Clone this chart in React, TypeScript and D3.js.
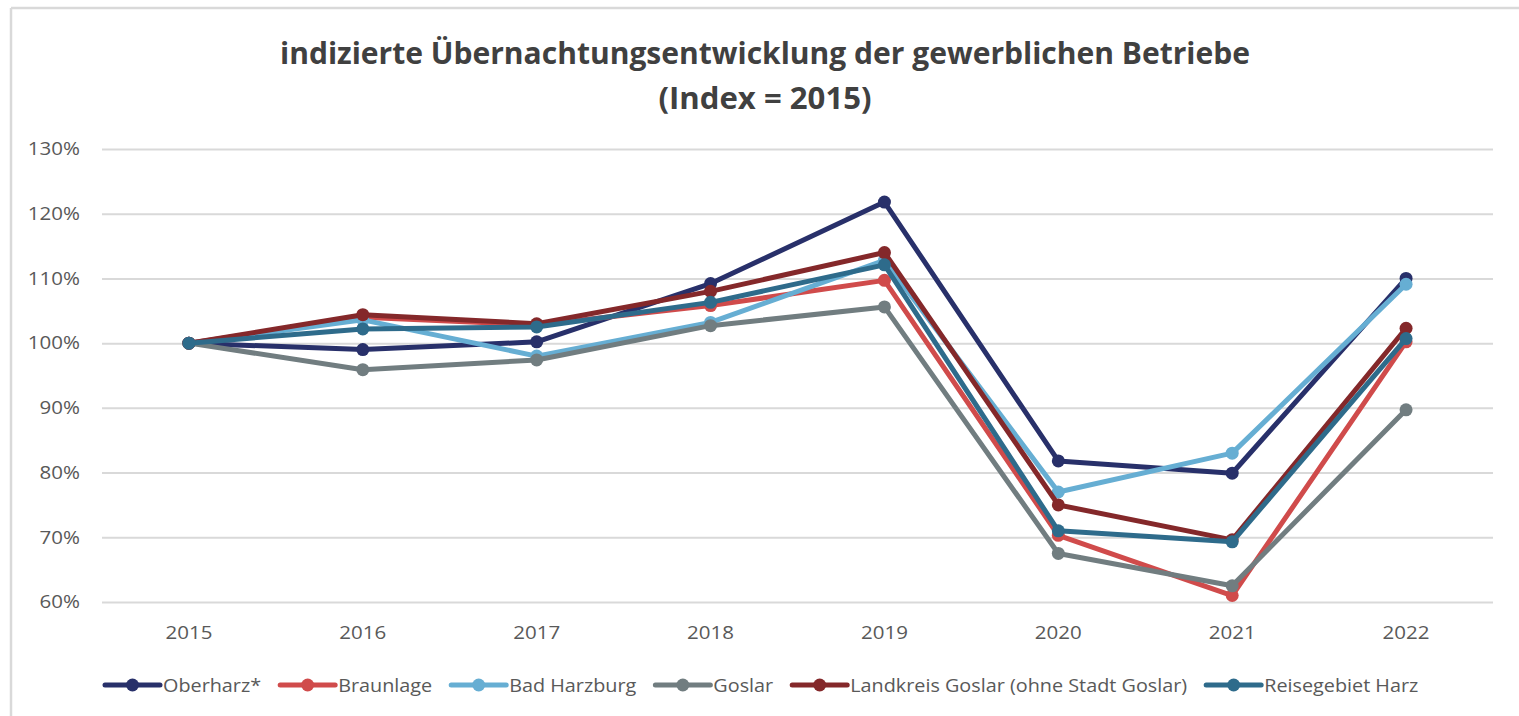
import React, { useRef, useEffect } from 'react';
import * as d3 from 'd3';

const years = ['2015', '2016', '2017', '2018', '2019', '2020', '2021', '2022'];
const yTicks = [60, 70, 80, 90, 100, 110, 120, 130];

const seriesNames = [
  'Oberharz*',
  'Braunlage',
  'Bad Harzburg',
  'Goslar',
  'Landkreis Goslar (ohne Stadt Goslar)',
  'Reisegebiet Harz',
];
const seriesColors = ['#28306a', '#d04b4b', '#66aed3', '#717d80', '#84282a', '#2e6b8b'];

const oberharz = [100, 99.0, 100.2, 109.2, 121.8, 81.8, 79.9, 110.0];
const braunlage = [100, 104.0, 102.8, 105.8, 109.7, 70.3, 61.0, 100.2];
const badHarzburg = [100, 103.6, 98.0, 103.2, 112.8, 77.0, 83.0, 109.1];
const goslar = [100, 95.9, 97.4, 102.7, 105.6, 67.5, 62.5, 89.7];
const landkreis = [100, 104.4, 103.0, 108.0, 114.0, 75.0, 69.6, 102.3];
const reisegebiet = [100, 102.2, 102.5, 106.3, 112.1, 71.0, 69.3, 100.7];

const seriesValues = [oberharz, braunlage, badHarzburg, goslar, landkreis, reisegebiet];

const W = 1519;
const H = 716;
const STRETCH = 1.14; // reference text is drawn a bit wider than Open Sans
const LEGEND_STRETCH = 1.1;

const App = () => {
  const svgRef = useRef<SVGSVGElement>(null);

  useEffect(() => {
    d3.select(svgRef.current).selectAll('*').remove();
    const svg = d3.select(svgRef.current);
    const margin = { top: 149, right: 26, bottom: 114, left: 102 };
    const font = '"Open Sans", sans-serif';

    const stretch = (sel: any) =>
      sel.each(function (this: SVGTextElement) {
        const w = this.getComputedTextLength();
        d3.select(this).attr('textLength', w * STRETCH).attr('lengthAdjust', 'spacingAndGlyphs');
      });

    // outer frame (only top + left visible)
    svg.append('line').attr('x1', 11).attr('x2', W).attr('y1', 8).attr('y2', 8)
      .attr('stroke', '#d9d9d9').attr('stroke-width', 2.5);
    svg.append('line').attr('x1', 11).attr('x2', 11).attr('y1', 8).attr('y2', H)
      .attr('stroke', '#d9d9d9').attr('stroke-width', 2.5);

    // title
    const title = svg.append('g').attr('font-family', font).attr('font-weight', 700)
      .attr('fill', '#404040').attr('text-anchor', 'middle');
    title.append('text').attr('x', 765).attr('y', 64).attr('font-size', 31)
      .attr('textLength', 970).attr('lengthAdjust', 'spacingAndGlyphs')
      .text('indizierte Übernachtungsentwicklung der gewerblichen Betriebe');
    title.append('text').attr('x', 765).attr('y', 109).attr('font-size', 31)
      .attr('textLength', 213).attr('lengthAdjust', 'spacingAndGlyphs')
      .text('(Index = 2015)');

    const x = d3
      .scaleBand()
      .domain(years)
      .range([margin.left, W - margin.right]);

    const y = d3
      .scaleLinear()
      .domain([60, 130])
      .range([H - margin.bottom, margin.top]);

    // grid + y labels
    const yAxis = d3
      .axisLeft(y)
      .tickValues(yTicks)
      .tickSize(-(W - margin.right - margin.left))
      .tickPadding(22)
      .tickFormat((d) => `${d}%`);

    const gy = svg.append('g').attr('transform', `translate(${margin.left},0)`).call(yAxis);
    gy.select('.domain').remove();
    gy.selectAll('.tick line').attr('stroke', '#d9d9d9').attr('stroke-width', 2);
    gy.selectAll('.tick text').attr('fill', '#595959').style('font-size', '18px').style('font-family', font);
    stretch(gy.selectAll('.tick text'));

    // x labels
    const xAxis = d3.axisBottom(x).tickSize(0).tickPadding(24);
    const gx = svg.append('g').attr('transform', `translate(0,${H - margin.bottom})`).call(xAxis);
    gx.select('.domain').remove();
    gx.selectAll('.tick text').attr('fill', '#595959').style('font-size', '18px').style('font-family', font);
    stretch(gx.selectAll('.tick text'));

    const cx = (i: number) => (x(years[i]) as number) + x.bandwidth() / 2;
    const line = d3
      .line<number>()
      .x((_, i) => cx(i))
      .y((d) => y(d));

    seriesValues.forEach((vals, s) => {
      const g = svg.append('g');
      g.append('path')
        .datum(vals)
        .attr('d', line)
        .attr('fill', 'none')
        .attr('stroke', seriesColors[s])
        .attr('stroke-width', 5)
        .attr('stroke-linejoin', 'round');
      g.selectAll('circle')
        .data(vals)
        .join('circle')
        .attr('cx', (_, i) => cx(i))
        .attr('cy', (d) => y(d))
        .attr('r', 6.5)
        .attr('fill', seriesColors[s]);
    });

    // legend
    const legend = svg.append('g').attr('transform', 'translate(0,685)');
    let lx = 105;
    seriesNames.forEach((name, s) => {
      const item = legend.append('g').attr('transform', `translate(${lx},0)`);
      item.append('line').attr('x1', 0).attr('x2', 55).attr('y1', 0).attr('y2', 0)
        .attr('stroke', seriesColors[s]).attr('stroke-width', 5).attr('stroke-linecap', 'round');
      item.append('circle').attr('cx', 27.5).attr('cy', 0).attr('r', 6.5).attr('fill', seriesColors[s]);
      const t = item.append('text').attr('x', 58).attr('y', 6.5)
        .attr('fill', '#595959').attr('font-size', 18).attr('font-family', font)
        .text(name);
      const tw = (t.node() as SVGTextElement).getComputedTextLength() * LEGEND_STRETCH;
      t.attr('textLength', tw).attr('lengthAdjust', 'spacingAndGlyphs');
      lx += 58 + tw + 19;
    });
  }, []);

  return (
    <svg
      ref={svgRef}
      width={W}
      height={H}
      style={{ position: 'absolute', left: 0, top: 0, background: '#fff' }}
    ></svg>
  );
};

export default App;
